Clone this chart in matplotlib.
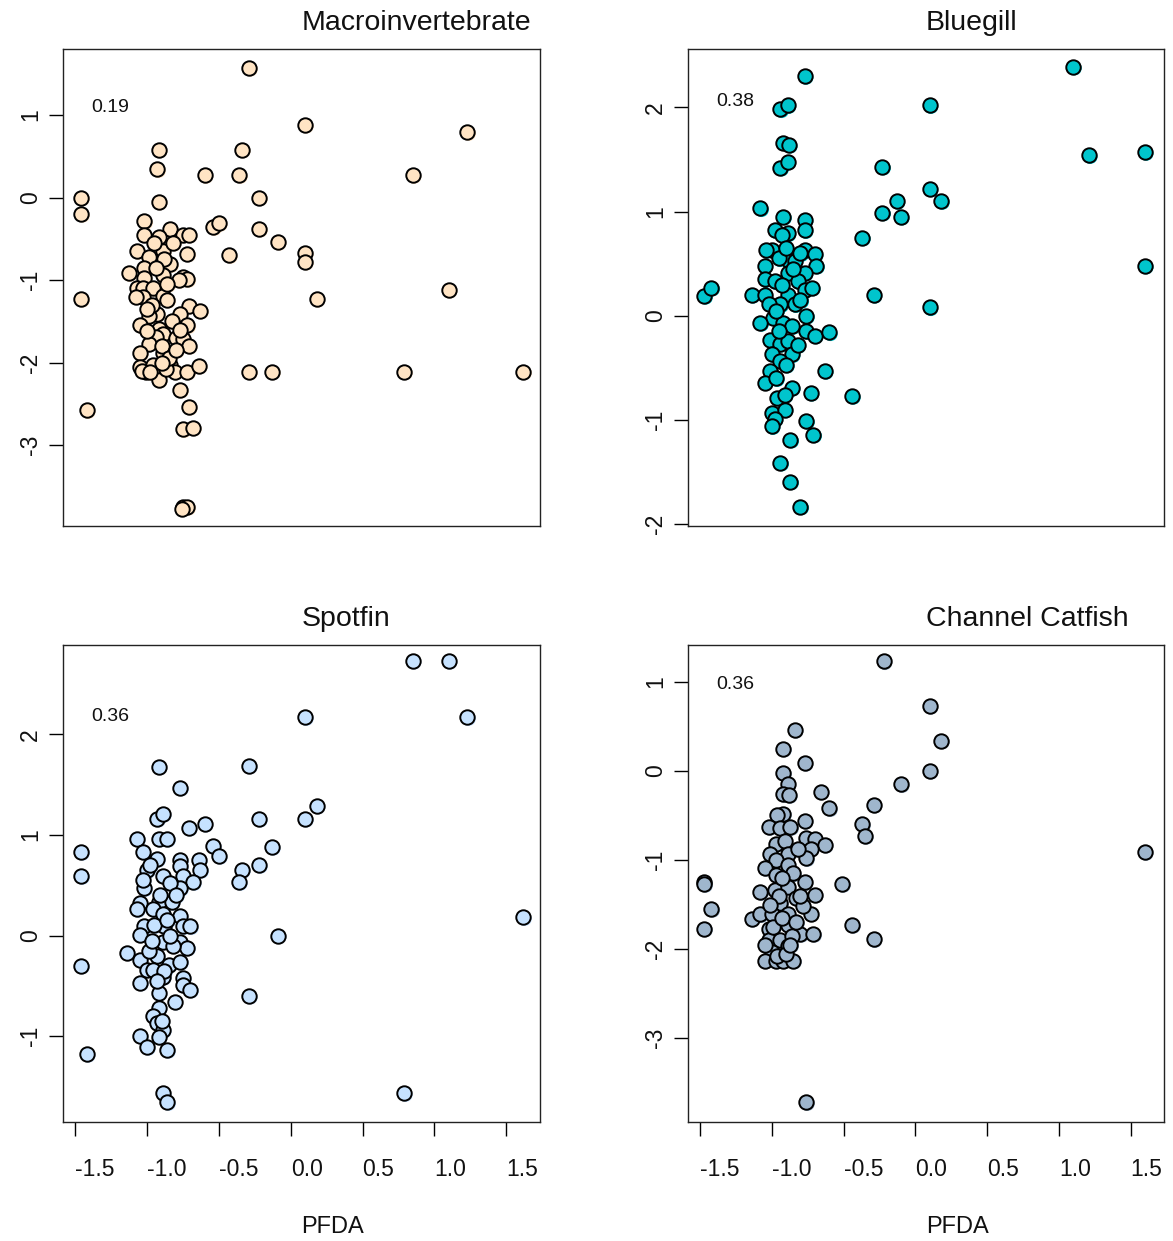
import matplotlib
matplotlib.use("Agg")
import matplotlib.pyplot as plt
from matplotlib.transforms import offset_copy
import numpy as np

plt.rcParams['font.family'] = ['Liberation Sans', 'DejaVu Sans']
plt.rcParams['axes.unicode_minus'] = False

# ---------------- data ----------------
titles = ["Macroinvertebrate", "Bluegill", "Spotfin", "Channel Catfish"]
corr_labels = ["0.19", "0.38", "0.36", "0.36"]
x_label = "PFDA"
x_ticks = [-1.5, -1.0, -0.5, 0.0, 0.5, 1.0, 1.5]

macro_x = [-0.29, 0.10, -0.92, -0.34, -0.93, -0.60, -0.36, -1.46, -0.22, -0.92,
           -1.46, -1.02, -0.54, -0.50, -0.22, -0.09, -0.84, -1.02, -0.92, -0.75,
           -0.71, -1.07, -0.89, -0.72, -0.43, 0.10, 0.10, -0.99, -0.84, -1.13,
           -1.02, -0.89, -1.02, -0.75, -0.72, -1.07, -1.03, -0.96, -1.03, -0.89,
           -0.86, -1.46, 0.18, -0.71, -0.63, -0.93, -0.77, -0.99, -1.05, -0.72,
           -0.92, -0.89, -0.80, -0.75, -0.94, -0.99, -0.71, -1.05, -0.89, -1.05,
           -1.01, -0.96, -0.92, -0.92, -0.84, -0.81, -0.72, -0.64, -0.29, -0.13,
           -0.77, -0.71, -0.75, -0.68, -1.42, -0.75, -0.72, -0.76, 1.23, 0.85,
           1.10, 0.79, 1.62, -1.04, -0.98, -0.87, -0.95, -0.88, -0.78, -0.97,
           -0.83, -1.00, -0.90, -0.82, -0.85, -0.77, -1.08, -0.94, -0.86, -1.00,
           -0.80, -0.90]
macro_y = [1.57, 0.88, 0.58, 0.58, 0.34, 0.27, 0.27, 0.00, 0.00, -0.05,
           -0.20, -0.29, -0.36, -0.31, -0.38, -0.54, -0.38, -0.45, -0.48, -0.45,
           -0.45, -0.65, -0.65, -0.68, -0.70, -0.67, -0.78, -0.72, -0.81, -0.92,
           -0.85, -0.94, -0.97, -0.96, -0.99, -1.10, -1.10, -1.10, -1.20, -1.19,
           -1.24, -1.23, -1.23, -1.31, -1.37, -1.41, -1.41, -1.44, -1.55, -1.55,
           -1.59, -1.65, -1.70, -1.71, -1.69, -1.77, -1.80, -1.89, -1.89, -2.05,
           -2.11, -2.03, -2.13, -2.21, -2.03, -2.11, -2.11, -2.04, -2.11, -2.11,
           -2.33, -2.54, -2.81, -2.79, -2.58, -3.75, -3.75, -3.77, 0.79, 0.27,
           -1.12, -2.11, -2.11, -2.10, -2.12, -2.08, -0.55, -0.75, -1.00, -1.30,
           -1.50, -1.62, -1.80, -0.55, -1.95, -1.60, -1.20, -0.85, -1.05, -1.35,
           -1.85, -2.00]

bluegill_x = [-0.77, -0.94, -0.89, -0.92, -0.88, -0.94, -0.89, -1.08, -0.92, -0.77,
              -0.77, -0.98, -0.89, -0.93, -1.00, -1.04, -0.77, -0.70, -1.05, -0.89,
              -0.84, -0.69, -1.05, -0.98, -0.89, -0.77, -0.82, -1.47, -1.42, -1.14,
              -1.05, -0.89, -0.77, -0.72, -0.29, -0.94, -1.02, -0.84, -0.99, -1.08,
              -0.92, -0.76, -0.76, -0.70, -0.60, -1.01, -0.94, -0.89, -1.00, -0.86,
              -0.94, -1.01, -1.05, -0.63, -0.86, -0.96, -0.91, -0.73, -0.44, -1.00,
              -0.91, -0.98, -1.00, -0.76, -0.71, -0.87, -0.94, -0.87, -0.80, -0.23,
              -0.23, -0.37, 1.10, 0.10, 1.21, 1.60, 0.10, 0.18, -0.13, -0.10,
              1.60, 0.10, -0.95, -0.85, -0.93, -0.80, -0.97, -0.86, -0.95, -0.82,
              -0.97, -0.90, -0.80, -0.90]
bluegill_y = [2.30, 1.98, 2.02, 1.66, 1.64, 1.42, 1.48, 1.03, 0.95, 0.92,
              0.82, 0.82, 0.79, 0.78, 0.63, 0.63, 0.63, 0.59, 0.48, 0.54,
              0.53, 0.48, 0.35, 0.33, 0.41, 0.41, 0.33, 0.19, 0.27, 0.20,
              0.20, 0.20, 0.25, 0.27, 0.20, 0.11, 0.11, 0.11, -0.02, -0.07,
              -0.07, 0.00, -0.15, -0.19, -0.16, -0.23, -0.27, -0.24, -0.37, -0.37,
              -0.43, -0.53, -0.64, -0.53, -0.69, -0.79, -0.76, -0.74, -0.77, -0.93,
              -0.90, -0.99, -1.06, -1.01, -1.14, -1.19, -1.41, -1.59, -1.83, 1.43,
              0.99, 0.75, 2.39, 2.02, 1.54, 1.57, 1.22, 1.10, 1.10, 0.95,
              0.48, 0.08, 0.55, 0.45, 0.30, 0.15, 0.05, -0.10, -0.15, -0.28,
              -0.60, -0.47, 0.60, 0.65]

spotfin_x = [0.10, -0.92, -0.29, -0.77, -0.93, -0.89, -0.22, 0.10, 0.18, -0.71,
             -0.60, -1.07, -0.92, -0.86, -1.46, -1.03, -0.54, -0.50, -0.13, -0.93,
             -0.77, -0.64, -1.00, -0.77, -0.63, -0.34, -0.36, -0.22, -1.46, -0.89,
             -0.75, -0.68, -0.77, -1.02, -1.05, -0.92, -0.83, -1.07, -0.96, -0.89,
             -0.77, -1.02, -0.88, -0.75, -0.70, -1.05, -0.89, -0.77, -0.72, -1.14,
             -1.05, -0.93, -0.85, -0.77, -1.46, -0.09, -1.00, -0.96, -1.05, -0.89,
             -0.75, -0.75, -0.70, -0.92, -0.29, -0.81, -0.92, -0.96, -0.93, -0.89,
             -1.05, -0.92, -1.00, -0.86, -1.42, -0.89, -0.86, 0.85, 1.10, 1.23,
             1.62, 0.79, -0.98, -0.84, -0.95, -0.82, -0.99, -0.88, -0.80, -0.90,
             -1.03, -0.91, -0.86, -0.97, -0.93, -0.84]
spotfin_y = [2.17, 1.68, 1.69, 1.47, 1.16, 1.21, 1.16, 1.16, 1.29, 1.07,
             1.11, 0.96, 0.96, 0.96, 0.83, 0.83, 0.89, 0.79, 0.88, 0.76,
             0.75, 0.75, 0.65, 0.69, 0.65, 0.65, 0.53, 0.70, 0.59, 0.59,
             0.59, 0.53, 0.47, 0.47, 0.32, 0.33, 0.33, 0.26, 0.26, 0.21,
             0.19, 0.09, 0.09, 0.09, 0.09, 0.01, -0.06, -0.06, -0.12, -0.17,
             -0.24, -0.20, -0.29, -0.26, -0.30, 0.00, -0.34, -0.34, -0.47, -0.41,
             -0.42, -0.49, -0.54, -0.57, -0.60, -0.66, -0.72, -0.80, -0.87, -0.94,
             -1.00, -1.01, -1.11, -1.14, -1.18, -1.57, -1.66, 2.73, 2.73, 2.17,
             0.18, -1.57, 0.70, 0.52, 0.10, -0.10, -0.15, -0.35, 0.40, -0.85,
             0.55, 0.40, 0.15, -0.05, -0.45, 0.00]

catfish_x = [-0.22, -0.84, -0.92, -0.77, -0.92, -0.89, -0.92, -0.88, -0.66, -0.60,
             -0.29, -0.92, -0.96, -0.77, -1.02, -0.94, -0.87, -0.37, -0.35, -0.76,
             -0.70, -0.63, -0.97, -0.91, -0.73, -1.01, -0.89, -0.97, -0.76, -1.05,
             -0.89, -0.97, -1.47, -1.47, -1.08, -0.98, -0.89, -0.77, -0.51, -0.83,
             -0.70, -0.94, -1.42, -1.14, -1.08, -1.00, -0.89, -0.73, -0.78, -1.47,
             -1.02, -0.89, -0.80, -0.71, -0.44, -0.29, -1.02, -0.94, -0.89, -1.00,
             -1.05, -0.97, -0.92, -0.85, -0.76, 0.10, 0.18, 0.10, -0.10, 1.60,
             -0.95, -0.85, -0.99, -0.93, -0.86, -1.05, -0.80, -0.82, -0.96, -0.90,
             -1.01, -0.87, -0.93, -0.83]
catfish_y = [1.23, 0.46, 0.25, 0.09, -0.02, -0.15, -0.26, -0.27, -0.23, -0.42,
             -0.38, -0.48, -0.49, -0.56, -0.63, -0.64, -0.63, -0.60, -0.73, -0.75,
             -0.76, -0.83, -0.82, -0.79, -0.87, -0.93, -0.93, -1.00, -0.98, -1.09,
             -1.06, -1.17, -1.25, -1.27, -1.36, -1.34, -1.30, -1.25, -1.27, -1.43,
             -1.39, -1.48, -1.55, -1.66, -1.61, -1.61, -1.60, -1.60, -1.52, -1.77,
             -1.77, -1.73, -1.83, -1.83, -1.73, -1.89, -1.90, -1.90, -1.97, -2.03,
             -2.13, -2.13, -2.13, -2.13, -3.72, 0.73, 0.34, 0.00, -0.15, -0.91,
             -1.40, -1.15, -1.75, -1.65, -1.85, -1.95, -1.40, -0.88, -2.08, -2.05,
             -1.50, -1.95, -1.20, -1.70]

series_x = [macro_x, bluegill_x, spotfin_x, catfish_x]
series_y = [macro_y, bluegill_y, spotfin_y, catfish_y]
y_ticks = [[1, 0, -1, -2, -3], [2, 1, 0, -1, -2], [2, 1, 0, -1], [1, 0, -1, -2, -3]]

# ---------------- styling / layout ----------------
fills = ["#FFE4C4", "#00C5CD", "#C6E2FF", "#9FB6CD"]
ylims = [(-3.975, 1.80), (-2.012, 2.56), (-1.85, 2.89), (-3.935, 1.415)]
xlim = (-1.587, 1.733)
corr_pos = [(-1.39, 1.09), (-1.39, 2.06), (-1.39, 2.18), (-1.39, 0.97)]

W, H = 1173, 1241
fig = plt.figure(figsize=(W / 100, H / 100), dpi=100)
fig.patch.set_facecolor("white")

lefts = [63 / W, 687.5 / W]
bw = 476.5 / W
rows = [(49, 525.5), (645, 1121.5)]

for i in range(4):
    r, c = divmod(i, 2)
    top, bot = rows[r]
    ax = fig.add_axes([lefts[c], 1 - bot / H, bw, (bot - top) / H])
    ax.set_xlim(*xlim)
    ax.set_ylim(*ylims[i])

    shadow = offset_copy(ax.transData, fig=fig, x=1.4, y=-1.4, units='dots')
    ax.scatter(series_x[i], series_y[i], s=108, facecolor=fills[i],
               edgecolor='none', transform=shadow, zorder=2, clip_on=False)
    ax.scatter(series_x[i], series_y[i], s=108, facecolor=fills[i],
               edgecolor='black', linewidths=1.4, zorder=3, clip_on=False)

    for sp in ax.spines.values():
        sp.set_linewidth(1.0)
        sp.set_color('#222222')

    ax.set_yticks(y_ticks[i])
    ax.set_yticklabels([str(v) for v in y_ticks[i]], rotation=90,
                       rotation_mode='anchor', ha='center', va='baseline',
                       fontsize=16.5, color='#111111')
    ax.tick_params(axis='y', length=10, width=1.0, pad=8.5, direction='out')

    if r == 1:
        ax.set_xticks(x_ticks)
        ax.set_xticklabels([f"{v:.1f}" for v in x_ticks], ha='left',
                           va='baseline', fontsize=16.5, color='#111111')
        ax.tick_params(axis='x', length=10, width=1.0, pad=29.5,
                       direction='out')
        ax.text(0.5, -111.5 / 477, x_label, transform=ax.transAxes,
                ha='left', va='baseline', fontsize=17, color='#111111')
    else:
        ax.set_xticks([])

    ax.text(0.5, 1 + 19 / 476, titles[i], transform=ax.transAxes,
            ha='left', va='baseline', fontsize=20.5, color='#111111')
    ax.text(corr_pos[i][0], corr_pos[i][1], corr_labels[i], ha='left',
            va='center', fontsize=14, color='#111111')

fig.savefig("out.png", dpi=100, facecolor="white")
